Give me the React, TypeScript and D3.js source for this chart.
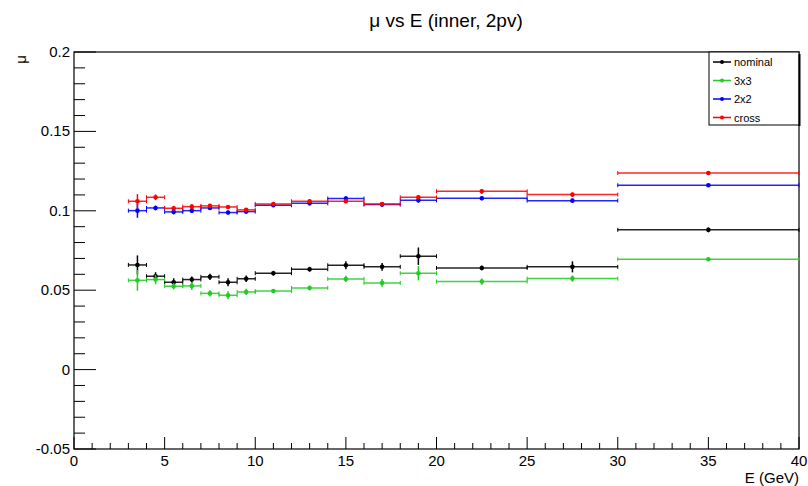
import React from "react";
import * as d3 from "d3";

// bin edges (GeV)
const binLow = [3, 4, 5, 6, 7, 8, 9, 10, 12, 14, 16, 18, 20, 25, 30];
const binHigh = [4, 5, 6, 7, 8, 9, 10, 12, 14, 16, 18, 20, 25, 30, 40];

const nominalVals = [0.0659, 0.0588, 0.055, 0.0567, 0.0584, 0.055, 0.0572, 0.0607, 0.0632, 0.0657, 0.0647, 0.0714, 0.064, 0.0647, 0.088];
const nominalErrs = [0.006, 0.0025, 0.0025, 0.002, 0.002, 0.0025, 0.002, 0.0015, 0.0015, 0.0025, 0.0025, 0.0055, 0.0015, 0.0035, 0.0015];
const g3x3Vals = [0.0562, 0.0567, 0.0525, 0.0527, 0.048, 0.0468, 0.0489, 0.0495, 0.0514, 0.0571, 0.0546, 0.0607, 0.0554, 0.0573, 0.0695];
const g3x3Errs = [0.0065, 0.003, 0.002, 0.0025, 0.002, 0.0025, 0.002, 0.0012, 0.0015, 0.002, 0.0025, 0.0045, 0.002, 0.002, 0.0008];
const g2x2Vals = [0.1001, 0.1018, 0.0993, 0.1001, 0.1018, 0.0989, 0.0995, 0.1035, 0.1047, 0.1077, 0.1039, 0.1066, 0.1079, 0.1064, 0.1161];
const g2x2Errs = [0.0045, 0.0015, 0.0015, 0.0015, 0.001, 0.0012, 0.0012, 0.001, 0.001, 0.0015, 0.0012, 0.0015, 0.0012, 0.0012, 0.0005];
const crossVals = [0.106, 0.1085, 0.1016, 0.1026, 0.1031, 0.1024, 0.1006, 0.1043, 0.106, 0.106, 0.1043, 0.1085, 0.1123, 0.1102, 0.1238];
const crossErrs = [0.0045, 0.0018, 0.0015, 0.0015, 0.0012, 0.0012, 0.0012, 0.001, 0.001, 0.0012, 0.001, 0.0015, 0.0015, 0.0012, 0.0012];

const seriesNames = ["nominal", "3x3", "2x2", "cross"];
const seriesColors = ["#000000", "#22cc22", "#0000ff", "#ff0000"];

const xTicks = [0, 5, 10, 15, 20, 25, 30, 35, 40];
const yTicks = [-0.05, 0, 0.05, 0.1, 0.15, 0.2];

const W = 808, H = 486;
const left = 74, right = 799, top = 52, bottom = 449;
const font = "'Liberation Sans', Arial, sans-serif";

export default function App() {
  const x = d3.scaleLinear().domain([0, 40]).range([left, right]);
  const y = d3.scaleLinear().domain([-0.05, 0.2]).range([bottom, top]);

  const series = [
    { vals: nominalVals, errs: nominalErrs },
    { vals: g3x3Vals, errs: g3x3Errs },
    { vals: g2x2Vals, errs: g2x2Errs },
    { vals: crossVals, errs: crossErrs },
  ];

  const xMinor = d3.range(0, 41, 1).filter(v => v % 5 !== 0);
  const yMinor = d3.range(-50, 201, 10).map(v => v / 1000).filter((v, i) => i % 5 !== 0);

  return (
    <svg width={W} height={H} style={{ position: "absolute", left: 0, top: 0, background: "#fff" }} fontFamily={font}>
      <rect x={0} y={0} width={W} height={H} fill="#fff" />
      {/* title */}
      <text x={446} y={27} fontSize={19} textAnchor="middle">μ vs E (inner, 2pv)</text>

      {/* y axis */}
      {yTicks.map(t => (
        <g key={"y" + t}>
          <line x1={left} x2={left + 22} y1={y(t)} y2={y(t)} stroke="#000" />
          <text x={left - 4} y={y(t) + 5} fontSize={15} textAnchor="end">{t === 0 ? "0" : String(t)}</text>
        </g>
      ))}
      {yMinor.map(t => (
        <line key={"ym" + t} x1={left} x2={left + 11} y1={y(t)} y2={y(t)} stroke="#000" />
      ))}
      <text transform={`translate(26,${top + 3}) rotate(-90)`} fontSize={15} textAnchor="end">μ</text>

      {/* x axis */}
      {xTicks.map(t => (
        <g key={"x" + t}>
          <line x1={x(t)} x2={x(t)} y1={bottom} y2={bottom - 12} stroke="#000" />
          <text x={x(t)} y={bottom + 17} fontSize={15} textAnchor="middle">{t}</text>
        </g>
      ))}
      {xMinor.map(t => (
        <line key={"xm" + t} x1={x(t)} x2={x(t)} y1={bottom} y2={bottom - 6} stroke="#000" />
      ))}
      <text x={right} y={483} fontSize={15} textAnchor="end">E (GeV)</text>

      {/* frame */}
      <rect x={left} y={top} width={right - left} height={bottom - top} fill="none" stroke="#000" strokeWidth={1.2} />

      {/* data */}
      {series.map((s, si) => (
        <g key={"s" + si} stroke={seriesColors[si]} fill={seriesColors[si]}>
          {s.vals.map((v, i) => {
            const cx = x((binLow[i] + binHigh[i]) / 2);
            const cy = y(v);
            const x0 = x(binLow[i]);
            const x1 = x(binHigh[i]);
            return (
              <g key={i}>
                <line x1={x0} x2={x1} y1={cy} y2={cy} strokeWidth={1.5} opacity={0.85} />
                <line x1={x0} x2={x0} y1={cy - 2} y2={cy + 2} strokeWidth={1} />
                <line x1={x1} x2={x1} y1={cy - 2} y2={cy + 2} strokeWidth={1} />
                <line x1={cx} x2={cx} y1={y(v + s.errs[i])} y2={y(v - s.errs[i])} strokeWidth={1.5} />
                <circle cx={cx} cy={cy} r={2.3} stroke="none" />
              </g>
            );
          })}
        </g>
      ))}

      {/* legend */}
      <rect x={709} y={52} width={90} height={73} fill="#fff" stroke="#000" strokeWidth={1} />
      <line x1={799.5} x2={799.5} y1={54} y2={126} stroke="#000" strokeWidth={2} />
      {seriesNames.map((n, i) => {
        const ly = 62 + i * 18.5;
        return (
          <g key={n}>
            <line x1={713} x2={731} y1={ly} y2={ly} stroke={seriesColors[i]} strokeWidth={1.5} />
            <circle cx={722} cy={ly} r={2} fill={seriesColors[i]} />
            <text x={734} y={ly + 4} fontSize={11}>{n}</text>
          </g>
        );
      })}
    </svg>
  );
}
